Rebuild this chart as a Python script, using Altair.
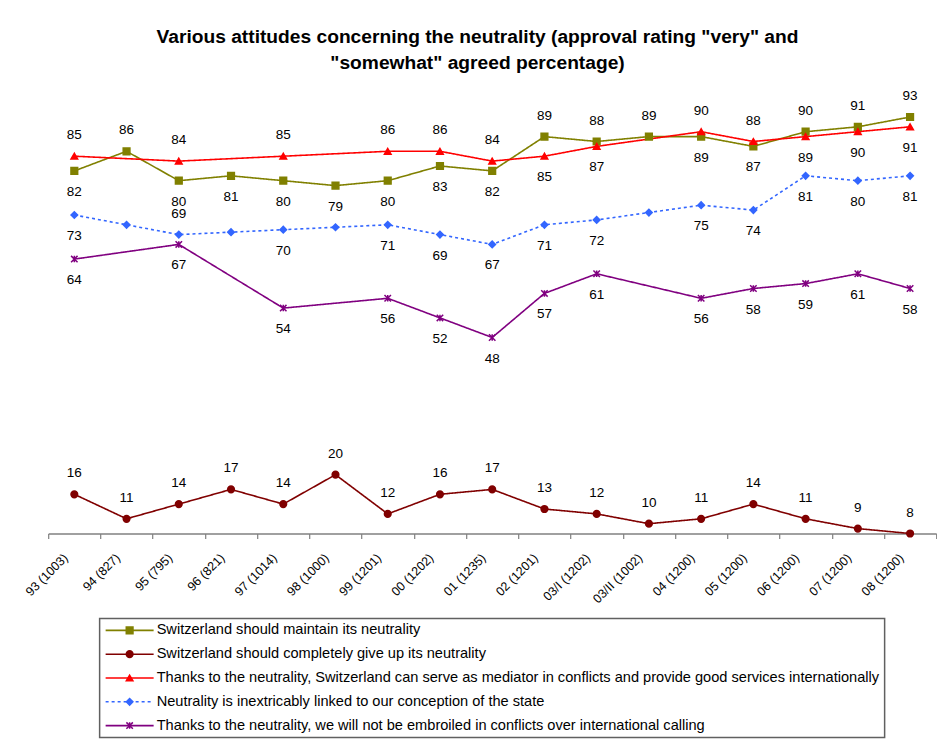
import altair as alt
import pandas as pd

categories = ["93 (1003)", "94 (827)", "95 (795)", "96 (821)", "97 (1014)", "98 (1000)",
              "99 (1201)", "00 (1202)", "01 (1235)", "02 (1201)", "03/I (1202)",
              "03/II (1002)", "04 (1200)", "05 (1200)", "06 (1200)", "07 (1200)", "08 (1200)"]

series_names = [
    "Switzerland should maintain its neutrality",
    "Switzerland should completely give up its neutrality",
    "Thanks to the neutrality, Switzerland can serve as mediator in conflicts and provide good services internationally",
    "Neutrality is inextricably linked to our conception of the state",
    "Thanks to the neutrality, we will not be embroiled in conflicts over international calling",
]

maintain = [82, 86, 80, 81, 80, 79, 80, 83, 82, 89, 88, 89, 89, 87, 90, 91, 93]
give_up = [16, 11, 14, 17, 14, 20, 12, 16, 17, 13, 12, 10, 11, 14, 11, 9, 8]
mediator = [85, None, 84, None, 85, None, 86, 86, 84, 85, 87, None, 90, 88, 89, 90, 91]
conception = [73, 71, 69, 69.5, 70, 70.5, 71, 69, 67, 71, 72, 73.5, 75, 74, 81, 80, 81]
embroiled = [64, None, 67, None, 54, None, 56, 52, 48, 57, 61, None, 56, 58, 59, 61, 58]

# label placement: A = above the point, B = below, None = no label
maintain_side = ["B", "A", "B", "B", "B", "B", "B", "B", "B", "A", "A", "A", "B", "B", "A", "A", "A"]
give_up_side = ["A"] * 17
mediator_side = ["A", None, "A", None, "A", None, "A", "A", "A", "B", "B", None, "A", "A", "B", "B", "B"]
conception_side = ["B", None, "A", None, "B", None, "B", "B", "B", "B", "B", None, "B", "B", "B", "B", "B"]
embroiled_side = ["B", None, "B", None, "B", None, "B", "B", "B", "B", "B", None, "B", "B", "B", "B", "B"]

colors = ["#808000", "#800000", "#FF0000", "#3366FF", "#800080"]
shapes = ["square", "circle", "triangle-up", "diamond", "M-1,-1L1,1M-1,1L1,-1M0,-1L0,1"]
dashes = [[1, 0], [1, 0], [1, 0], [3, 3], [1, 0]]
sizes = [45, 42, 70, 70, 55]

rows = []
for name, vals, sides in zip(series_names,
                             [maintain, give_up, mediator, conception, embroiled],
                             [maintain_side, give_up_side, mediator_side, conception_side, embroiled_side]):
    for c, v, s in zip(categories, vals, sides):
        if v is None:
            continue
        rows.append({"cat": c, "series": name, "value": v, "side": s if s else "N"})
df = pd.DataFrame(rows)

color_scale = alt.Scale(domain=series_names, range=colors)
shape_scale = alt.Scale(domain=series_names, range=shapes)
dash_scale = alt.Scale(domain=series_names, range=dashes)
size_scale = alt.Scale(domain=series_names, range=sizes)

col = alt.Color("series:N", scale=color_scale, legend=None)
stk = alt.Stroke("series:N", scale=color_scale, legend=None)
shp = alt.Shape("series:N", scale=shape_scale, legend=None)
dsh = alt.StrokeDash("series:N", scale=dash_scale, legend=None)
siz = alt.Size("series:N", scale=size_scale, legend=None)

base = alt.Chart(df).encode(
    x=alt.X("cat:N", sort=categories,
            scale=alt.Scale(type="band", paddingInner=0, paddingOuter=0),
            axis=alt.Axis(title=None, labelAngle=-45, labelFontSize=12.5, labelColor="black",
                          labelFont="Liberation Sans", domainColor="#808080", domainWidth=1.5,
                          tickColor="#808080", tickWidth=1.2, tickSize=5, tickBand="extent",
                          labelAlign="right", labelBaseline="middle", labelPadding=17,
                          labelOffset=-9)),
    y=alt.Y("value:Q", scale=alt.Scale(domain=[8, 98], nice=False, zero=False), axis=None),
)

lines = base.mark_line(strokeWidth=1.6).encode(color=col, strokeDash=dsh)
points = base.mark_point(filled=True, opacity=1, strokeWidth=1.5).encode(
    color=col, stroke=stk, shape=shp, size=siz)
above = base.transform_filter(alt.datum.side == "A").mark_text(
    dy=-21, fontSize=13.5, color="black", font="Liberation Sans").encode(text=alt.Text("value:Q", format="d"))
below = base.transform_filter(alt.datum.side == "B").mark_text(
    dy=21, fontSize=13.5, color="black", font="Liberation Sans").encode(text=alt.Text("value:Q", format="d"))

main = alt.layer(lines, points, above, below).properties(
    width=888, height=441, view=alt.ViewBackground(stroke=None))

legend_df = pd.DataFrame({"series": series_names, "order": list(range(len(series_names)))})
lbase = alt.Chart(legend_df).encode(y=alt.Y("order:O", axis=None))
lrule = lbase.mark_rule(strokeWidth=1.6).encode(x=alt.value(6), x2=alt.value(54), color=col, strokeDash=dsh)
lpts = lbase.mark_point(filled=True, opacity=1, strokeWidth=1.5).encode(
    x=alt.value(30), color=col, stroke=stk, shape=shp, size=siz)
ltxt = lbase.mark_text(align="left", baseline="middle", fontSize=14.6, color="black",
                       font="Liberation Sans").encode(x=alt.value(57), text="series:N")
legend = alt.layer(lrule, lpts, ltxt).properties(
    width=785, height=119, view=alt.ViewBackground(stroke="#606060", strokeWidth=1.5))

chart = alt.vconcat(main, legend, spacing=12, center=True).properties(
    title=alt.TitleParams(
        text=['Various attitudes concerning the neutrality (approval rating "very" and',
              '"somewhat" agreed percentage)'],
        fontSize=19.2, font="Liberation Sans", fontWeight="bold", lineHeight=26,
        anchor="middle", offset=16, dx=-2.5, color="black"),
    padding={"left": 15, "top": 19.5, "right": 0, "bottom": 0},
).configure(font="Liberation Sans").configure_view(stroke=None)

chart.save("out.html", embed_options={"renderer": "svg", "actions": False})
